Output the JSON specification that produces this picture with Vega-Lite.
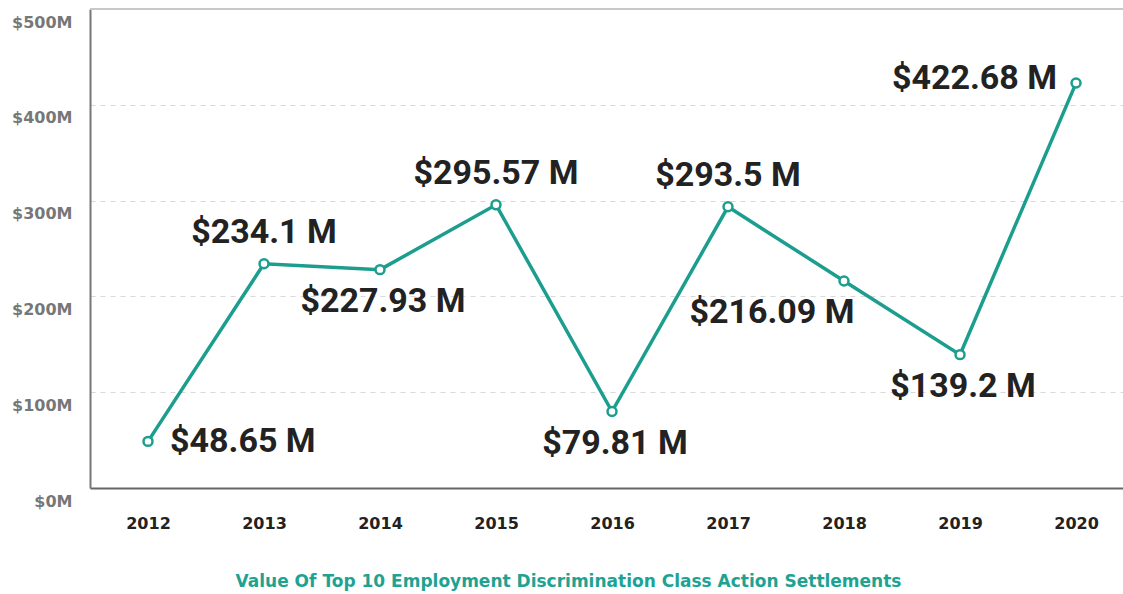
{
  "$schema": "https://vega.github.io/schema/vega-lite/v6.json",
  "width": 1033,
  "height": 479,
  "autosize": {"type": "none"},
  "padding": {"left": 90, "top": 9, "right": 0, "bottom": 106},
  "background": "white",
  "config": {"view": {"stroke": null}},
  "title": {
    "text": "Value Of Top 10 Employment Discrimination Class Action Settlements",
    "orient": "bottom",
    "offset": 43,
    "font": "DejaVu Sans",
    "fontWeight": "bold",
    "fontSize": 17,
    "color": "#1ea392",
    "anchor": "middle",
    "dx": -38
  },
  "data": {
    "values": [
      {"year": 2012, "value": 48.65, "label": "$48.65 M"},
      {"year": 2013, "value": 234.1, "label": "$234.1 M"},
      {"year": 2014, "value": 227.93, "label": "$227.93 M"},
      {"year": 2015, "value": 295.57, "label": "$295.57 M"},
      {"year": 2016, "value": 79.81, "label": "$79.81 M"},
      {"year": 2017, "value": 293.5, "label": "$293.5 M"},
      {"year": 2018, "value": 216.09, "label": "$216.09 M"},
      {"year": 2019, "value": 139.2, "label": "$139.2 M"},
      {"year": 2020, "value": 422.68, "label": "$422.68 M"}
    ]
  },
  "encoding": {
    "x": {
      "field": "year",
      "type": "quantitative",
      "scale": {"domain": [2011.5, 2020.405], "nice": false, "zero": false},
      "axis": {
        "values": [2012, 2013, 2014, 2015, 2016, 2017, 2018, 2019, 2020],
        "format": "d",
        "title": null,
        "grid": false,
        "ticks": false,
        "domainColor": "#666",
        "domainWidth": 2,
        "labelFont": "DejaVu Sans",
        "labelFontWeight": "bold",
        "labelFontSize": 16,
        "labelColor": "#222",
        "labelPadding": 27,
        "labelFlush": false
      }
    },
    "y": {
      "field": "value",
      "type": "quantitative",
      "scale": {"domain": [0, 500], "nice": false},
      "axis": {
        "values": [0, 100, 200, 300, 400, 500],
        "labelExpr": "'$' + datum.value + 'M'",
        "title": null,
        "grid": true,
        "gridColor": "#d8d8d8",
        "gridDash": [5, 5],
        "gridWidth": 1,
        "ticks": false,
        "domainColor": "#777",
        "domainWidth": 2,
        "labelFont": "DejaVu Sans",
        "labelFontWeight": "bold",
        "labelFontSize": 16,
        "labelColor": "#777",
        "labelPadding": 18,
        "labelOffset": 13,
        "labelFlush": false
      }
    }
  },
  "layer": [
    {
      "mark": {"type": "rule", "color": "#c8c8c8", "strokeWidth": 2},
      "encoding": {"y": {"datum": 500}, "x": {"value": 0}, "x2": {"value": 1033}}
    },
    {
      "mark": {"type": "line", "color": "#1b9e8e", "strokeWidth": 3.5}
    },
    {
      "mark": {"type": "point", "shape": "circle", "filled": true, "fill": "white", "stroke": "#1b9e8e", "strokeWidth": 2.5, "size": 80, "opacity": 1}
    },
    {
      "transform": [{"filter": {"field": "year", "oneOf": [2013, 2015, 2017]}}],
      "mark": {"type": "text", "font": "Roboto", "fontWeight": "bold", "fontSize": 34, "color": "#222", "align": "center", "baseline": "middle", "dy": -31},
      "encoding": {"text": {"field": "label"}}
    },
    {
      "transform": [{"filter": {"field": "year", "oneOf": [2014, 2016, 2019]}}],
      "mark": {"type": "text", "font": "Roboto", "fontWeight": "bold", "fontSize": 34, "color": "#222", "align": "center", "baseline": "middle", "dy": 32, "dx": 3},
      "encoding": {"text": {"field": "label"}}
    },
    {
      "transform": [{"filter": {"field": "year", "equal": 2012}}],
      "mark": {"type": "text", "font": "Roboto", "fontWeight": "bold", "fontSize": 34, "color": "#222", "align": "left", "baseline": "middle", "dx": 22, "dy": 1},
      "encoding": {"text": {"field": "label"}}
    },
    {
      "transform": [{"filter": {"field": "year", "equal": 2018}}],
      "mark": {"type": "text", "font": "Roboto", "fontWeight": "bold", "fontSize": 34, "color": "#222", "align": "center", "baseline": "middle", "dx": -72, "dy": 32},
      "encoding": {"text": {"field": "label"}}
    },
    {
      "transform": [{"filter": {"field": "year", "equal": 2020}}],
      "mark": {"type": "text", "font": "Roboto", "fontWeight": "bold", "fontSize": 34, "color": "#222", "align": "right", "baseline": "middle", "dx": -19, "dy": -4},
      "encoding": {"text": {"field": "label"}}
    }
  ]
}
